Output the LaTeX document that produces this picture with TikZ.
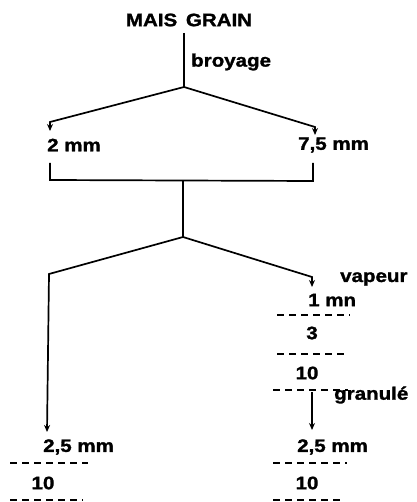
\documentclass[tikz,border=0pt]{standalone}
\usepackage{fontspec}
\setmainfont{Liberation Sans}[BoldFeatures={FakeStretch=1.14,FakeBold=1.5}]
\usetikzlibrary{arrows.meta}
\begin{document}
\begin{tikzpicture}[x=1pt,y=-1pt,
  lbl/.style={inner sep=0pt,font=\fontsize{18}{21}\selectfont\bfseries},
  ln/.style={line width=1.7pt},
  arr/.style={ln,-{Stealth[length=7pt,width=6pt]}},
  dsh/.style={line width=1.7pt,dash pattern=on 7pt off 5pt}]
\useasboundingbox (0,0) rectangle (416,502);
% texts
\node[lbl] (title) at (189,20) {MAIS\, GRAIN};
\node[lbl,anchor=west] (broyage) at (191,62) {broyage};
\node[lbl,anchor=west] (twomm) at (47,145) {2 mm};
\node[lbl,anchor=west] (sevenmm) at (298,145) {7,5 mm};
\node[lbl,anchor=west] (vapeur) at (340,279) {vapeur};
\node[lbl,anchor=west] (onemn) at (308,300) {1 mn};
\node[lbl] (three) at (312,333) {3};
\node[lbl] (tenA) at (307,373) {10};
\node[lbl,anchor=west] (granule) at (334,395) {granulé};
\node[lbl,anchor=west] (tfL) at (43,447) {2,5 mm};
\node[lbl,anchor=west] (tfR) at (297,447) {2,5 mm};
\node[lbl] (tenL) at (43,483) {10};
\node[lbl] (tenR) at (307,483) {10};
% coordinates
\coordinate (t0) at (184,33);
\coordinate (j1) at (184,87);
\coordinate (l1) at (50,122);
\coordinate (l1e) at (50,131);
\coordinate (r1) at (315,127);
\coordinate (r1e) at (315,135);
\coordinate (bl) at (50,163);
\coordinate (blc) at (50,180);
\coordinate (brc) at (313,181);
\coordinate (br) at (313,163);
\coordinate (b0) at (183,180.5);
\coordinate (j2) at (183,237);
\coordinate (l2) at (49,274);
\coordinate (l2e) at (47,432);
\coordinate (r2) at (312,277);
\coordinate (r2e) at (312,287);
\coordinate (g0) at (312,392);
\coordinate (g1) at (312,430);
% connectors
\draw[ln] (t0) -- (j1);
\draw[arr] (j1) -- (l1) -- (l1e);
\draw[arr] (j1) -- (r1) -- (r1e);
\draw[ln] (bl) -- (blc) -- (brc) -- (br);
\draw[ln] (b0) -- (j2);
\draw[arr] (j2) -- (l2) -- (l2e);
\draw[arr] (j2) -- (r2) -- (r2e);
\draw[arr] (g0) -- (g1);
% dashed separators
\draw[dsh] (277,315) -- (350,315);
\draw[dsh] (277,354) -- (348,354);
\draw[dsh] (273,390) -- (348,390);
\draw[dsh] (10,463) -- (88,463);
\draw[dsh] (273,463) -- (347,463);
\draw[dsh] (10,500) -- (83,500);
\draw[dsh] (273,500) -- (343,500);
\end{tikzpicture}
\end{document}
